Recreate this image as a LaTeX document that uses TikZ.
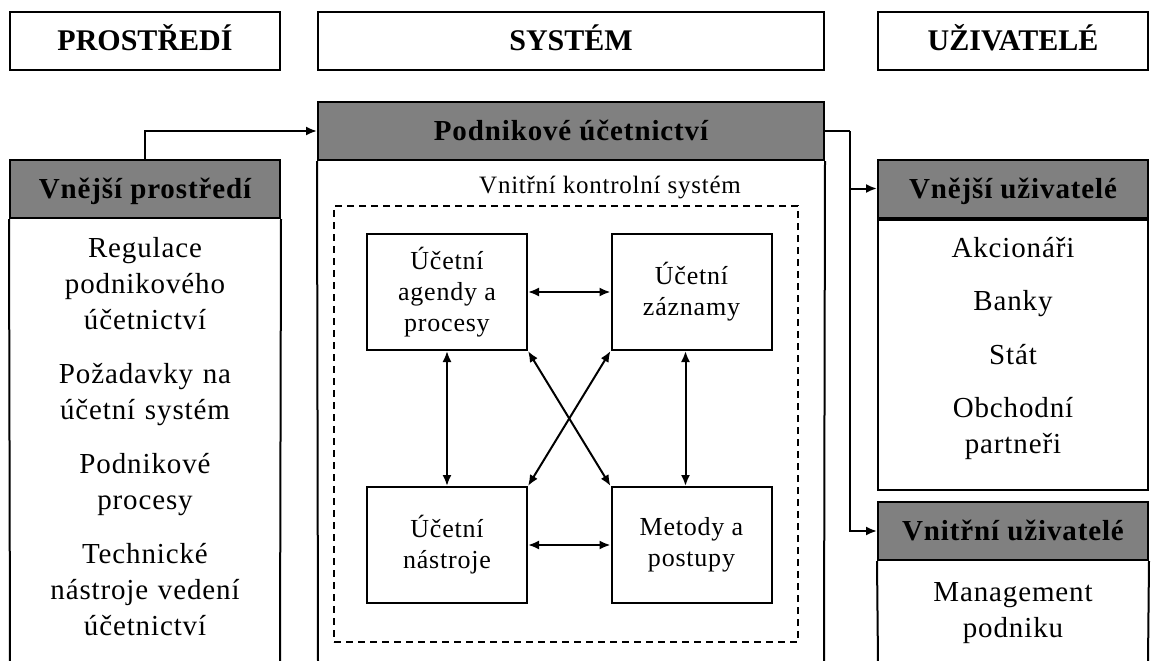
\documentclass[tikz,border=0pt]{standalone}
\usepackage{fontspec}
\setmainfont{Liberation Serif}[LetterSpace=3]
\newfontfamily\plainserif{Liberation Serif}
\usetikzlibrary{arrows.meta,calc}
\begin{document}
\begin{tikzpicture}[x=1pt,y=-1pt,
  lw/.style={line width=2pt},
  topbox/.style={draw,lw,minimum width=270pt,minimum height=58pt,inner sep=0pt,
    font=\plainserif\bfseries\fontsize{30}{36}\selectfont,text height=20pt,text depth=0pt},
  grayhdr/.style={draw,lw,fill=gray,minimum width=270pt,minimum height=58pt,inner sep=0pt,
    font=\bfseries\fontsize{29}{34}\selectfont,text height=19pt,text depth=0pt},
  bodytxt/.style={font=\fontsize{29}{36}\selectfont,text width=264pt,align=center,anchor=base,inner sep=0pt},
  innerbox/.style={draw,lw,minimum width=160pt,minimum height=116pt,inner sep=0pt,align=center,
    font=\fontsize{26}{31}\selectfont},
  dashbox/.style={draw,line width=1.6pt,dash pattern=on 7pt off 5pt},
  tip/.tip={Latex[length=11pt,width=9pt]},
  arr/.style={lw,-tip},
  darr/.style={lw,tip-tip}
]
\useasboundingbox (0,0) rectangle (1152,661);

% top headers
\node[topbox] (hP) at (145,41) {PROSTŘEDÍ};
\node[topbox,minimum width=506pt] (hS) at (571,41) {SYSTÉM};
\node[topbox] (hU) at (1013,41) {UŽIVATELÉ};

% left column
\node[grayhdr] (vph) at (145,189) {Vnější prostředí};
\draw[lw] (vph.south west) -- (10,662);
\draw[lw] (vph.south east) -- (280,662);
\node[bodytxt] (l1) at (145,257) {Regulace\\podnikového\\účetnictví};
\node[bodytxt] (l2) at (145,383) {Požadavky na\\účetní systém};
\node[bodytxt] (l3) at (145,473) {Podnikové\\procesy};
\node[bodytxt] (l4) at (145,563) {Technické\\nástroje vedení\\účetnictví};

% system column
\node[grayhdr,minimum width=506pt] (pu) at (571,131) {Podnikové účetnictví};
\draw[lw] (pu.south west) -- (318,662);
\draw[lw] (pu.south east) -- (824,662);
\node[anchor=base,inner sep=0pt,font=\fontsize{25}{29}\selectfont] (vks) at (610,193) {Vnitřní kontrolní systém};
\node[dashbox,minimum width=464pt,minimum height=436pt,inner sep=0pt] (dash) at (566,424) {};

\node[innerbox] (A) at (447,292) {Účetní\\agendy a\\procesy};
\node[innerbox] (Z) at (691.5,292) {Účetní\\záznamy};
\node[innerbox] (N) at (447,545) {Účetní\\nástroje};
\node[innerbox] (M) at (691.5,545) {Metody a\\postupy};

\draw[darr] (A.east) -- (Z.west);
\draw[darr] (N.east) -- (M.west);
\draw[darr] (A.south) -- (N.north);
\draw[darr] ([xshift=-6pt]Z.south) -- ([xshift=-6pt]M.north);
\draw[darr] (A.south east) -- (M.north west);
\draw[darr] (Z.south west) -- (N.north east);

% right column
\node[grayhdr] (vuh) at (1013,188.5) {Vnější uživatelé};
\node[draw,lw,minimum width=270pt,minimum height=270pt,inner sep=0pt,anchor=north] (vub) at (vuh.south) {};
\node[bodytxt] (r1) at (1013,257) {Akcionáři};
\node[bodytxt] (r2) at (1013,310) {Banky};
\node[bodytxt] (r3) at (1013,364) {Stát};
\node[bodytxt] (r4) at (1013,417) {Obchodní\\partneři};

\node[grayhdr] (iuh) at (1013,531) {Vnitřní uživatelé};
\draw[lw] (iuh.south west) -- (878,662);
\draw[lw] (iuh.south east) -- (1148,662);
\node[bodytxt] (r5) at (1013,601) {Management\\podniku};

% connectors
\draw[arr] (vph.north) |- (pu.west);
\coordinate (j) at (850,131);
\draw[lw] (pu.east) -- (j);
\draw[arr] (j) |- (vuh.west);
\draw[arr] (j) |- (iuh.west);
\end{tikzpicture}
\end{document}
